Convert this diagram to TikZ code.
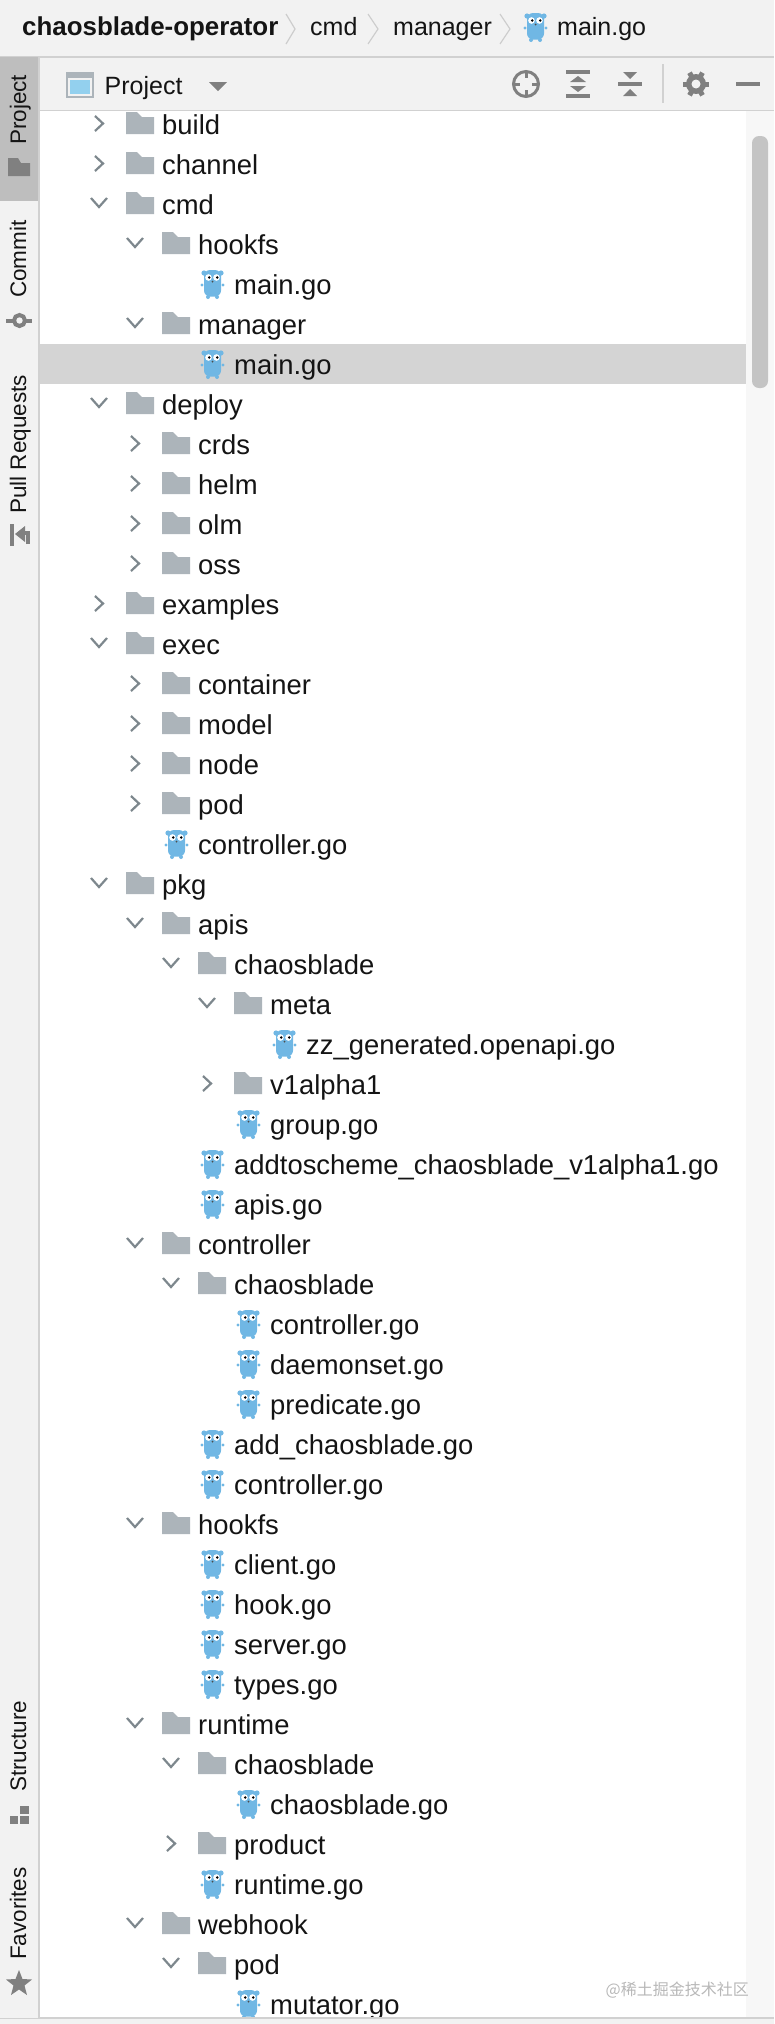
\documentclass[tikz,border=0pt]{standalone}
\usepackage{fontspec}
\setmainfont{Liberation Sans}
\newfontfamily\cjk{Noto Sans CJK SC}
\definecolor{ide_bar}{RGB}{242, 242, 242}
\definecolor{ide_line}{RGB}{209, 209, 209}
\definecolor{ide_tab}{RGB}{190, 190, 190}
\definecolor{ide_sel}{RGB}{212, 212, 212}
\definecolor{ide_icon}{RGB}{128, 128, 128}
\definecolor{ide_folder}{RGB}{172, 180, 186}
\definecolor{ide_arrow}{RGB}{125, 135, 141}
\definecolor{ide_crumb}{RGB}{205, 205, 205}
\definecolor{ide_thumb}{RGB}{196, 196, 196}
\definecolor{ide_track}{RGB}{247, 247, 247}
\definecolor{ide_sky}{RGB}{147, 208, 238}
\definecolor{go_blue}{RGB}{112, 183, 228}
\definecolor{ide_text}{RGB}{20, 20, 20}
\tikzstyle{tn}=[anchor=base west,inner sep=0pt,text=ide_text,
  font=\fontsize{27.4}{30}\selectfont]
\tikzstyle{hn}=[anchor=base west,inner sep=0pt,text=ide_text,
  font=\fontsize{25}{30}\selectfont]
\tikzstyle{sn}=[anchor=base west,inner sep=0pt,rotate=90,text=ide_text,
  font=\fontsize{22.5}{26}\selectfont]
\tikzstyle{chev}=[draw=ide_arrow,line width=2.2pt,fill=none]
\tikzset{
  folder/.pic={
    \fill[ide_folder] (-36,-22) -- (-25,-22) -- (-20,-17) -- (-8,-17)
      -- (-8,0) -- (-36,0) -- cycle;
  },
  fopen/.pic={
    \pic {folder};
    \draw[style=chev] (-71,-16) -- (-63,-7) -- (-55,-16);
  },
  fshut/.pic={
    \pic {folder};
    \draw[style=chev] (-67,-18) -- (-59,-10.5) -- (-67,-3);
  },
  gopher/.pic={
    \fill[go_blue] (-30,-21) circle (2.6);
    \fill[go_blue] (-13,-21) circle (2.6);
    \fill[go_blue] (-32,-9) circle (1.6);
    \fill[go_blue] (-11,-9) circle (1.6);
    \fill[go_blue] (-26,3) circle (2);
    \fill[go_blue] (-17,3) circle (2);
    \fill[go_blue,rounded corners=6pt] (-30,-24) rectangle (-13,2.5);
    \fill[white] (-25.5,-16.5) circle (3.3);
    \fill[white] (-17.5,-16.5) circle (3.3);
    \fill[black] (-24.8,-16.5) circle (1.4);
    \fill[black] (-16.8,-16.5) circle (1.4);
    \fill[black!70] (-21.5,-12.5) circle (1);
  }
}
\begin{document}
\begin{tikzpicture}[x=1pt,y=-1pt]
	\useasboundingbox (0, 0) rectangle (774, 2024);
	\fill[white] (0, 0) rectangle (774, 2024);
	\fill[ide_track] (746, 111) rectangle (774, 2024);
	\fill[ide_sel] (39, 344) rectangle (746, 384);
	\fill[ide_thumb,rounded corners=7pt] (752, 136) rectangle (768, 388);

	\node[style=tn] (0) at (162, 134) {build}; \pic at (0.base west) {fshut};
	\node[style=tn] (1) at (162, 174) {channel}; \pic at (1.base west) {fshut};
	\node[style=tn] (2) at (162, 214) {cmd}; \pic at (2.base west) {fopen};
	\node[style=tn] (3) at (198, 254) {hookfs}; \pic at (3.base west) {fopen};
	\node[style=tn] (4) at (234, 294) {main.go}; \pic at (4.base west) {gopher};
	\node[style=tn] (5) at (198, 334) {manager}; \pic at (5.base west) {fopen};
	\node[style=tn] (6) at (234, 374) {main.go}; \pic at (6.base west) {gopher};
	\node[style=tn] (7) at (162, 414) {deploy}; \pic at (7.base west) {fopen};
	\node[style=tn] (8) at (198, 454) {crds}; \pic at (8.base west) {fshut};
	\node[style=tn] (9) at (198, 494) {helm}; \pic at (9.base west) {fshut};
	\node[style=tn] (10) at (198, 534) {olm}; \pic at (10.base west) {fshut};
	\node[style=tn] (11) at (198, 574) {oss}; \pic at (11.base west) {fshut};
	\node[style=tn] (12) at (162, 614) {examples}; \pic at (12.base west) {fshut};
	\node[style=tn] (13) at (162, 654) {exec}; \pic at (13.base west) {fopen};
	\node[style=tn] (14) at (198, 694) {container}; \pic at (14.base west) {fshut};
	\node[style=tn] (15) at (198, 734) {model}; \pic at (15.base west) {fshut};
	\node[style=tn] (16) at (198, 774) {node}; \pic at (16.base west) {fshut};
	\node[style=tn] (17) at (198, 814) {pod}; \pic at (17.base west) {fshut};
	\node[style=tn] (18) at (198, 854) {controller.go}; \pic at (18.base west) {gopher};
	\node[style=tn] (19) at (162, 894) {pkg}; \pic at (19.base west) {fopen};
	\node[style=tn] (20) at (198, 934) {apis}; \pic at (20.base west) {fopen};
	\node[style=tn] (21) at (234, 974) {chaosblade}; \pic at (21.base west) {fopen};
	\node[style=tn] (22) at (270, 1014) {meta}; \pic at (22.base west) {fopen};
	\node[style=tn] (23) at (306, 1054) {zz\_generated.openapi.go}; \pic at (23.base west) {gopher};
	\node[style=tn] (24) at (270, 1094) {v1alpha1}; \pic at (24.base west) {fshut};
	\node[style=tn] (25) at (270, 1134) {group.go}; \pic at (25.base west) {gopher};
	\node[style=tn] (26) at (234, 1174) {addtoscheme\_chaosblade\_v1alpha1.go}; \pic at (26.base west) {gopher};
	\node[style=tn] (27) at (234, 1214) {apis.go}; \pic at (27.base west) {gopher};
	\node[style=tn] (28) at (198, 1254) {controller}; \pic at (28.base west) {fopen};
	\node[style=tn] (29) at (234, 1294) {chaosblade}; \pic at (29.base west) {fopen};
	\node[style=tn] (30) at (270, 1334) {controller.go}; \pic at (30.base west) {gopher};
	\node[style=tn] (31) at (270, 1374) {daemonset.go}; \pic at (31.base west) {gopher};
	\node[style=tn] (32) at (270, 1414) {predicate.go}; \pic at (32.base west) {gopher};
	\node[style=tn] (33) at (234, 1454) {add\_chaosblade.go}; \pic at (33.base west) {gopher};
	\node[style=tn] (34) at (234, 1494) {controller.go}; \pic at (34.base west) {gopher};
	\node[style=tn] (35) at (198, 1534) {hookfs}; \pic at (35.base west) {fopen};
	\node[style=tn] (36) at (234, 1574) {client.go}; \pic at (36.base west) {gopher};
	\node[style=tn] (37) at (234, 1614) {hook.go}; \pic at (37.base west) {gopher};
	\node[style=tn] (38) at (234, 1654) {server.go}; \pic at (38.base west) {gopher};
	\node[style=tn] (39) at (234, 1694) {types.go}; \pic at (39.base west) {gopher};
	\node[style=tn] (40) at (198, 1734) {runtime}; \pic at (40.base west) {fopen};
	\node[style=tn] (41) at (234, 1774) {chaosblade}; \pic at (41.base west) {fopen};
	\node[style=tn] (42) at (270, 1814) {chaosblade.go}; \pic at (42.base west) {gopher};
	\node[style=tn] (43) at (234, 1854) {product}; \pic at (43.base west) {fshut};
	\node[style=tn] (44) at (234, 1894) {runtime.go}; \pic at (44.base west) {gopher};
	\node[style=tn] (45) at (198, 1934) {webhook}; \pic at (45.base west) {fopen};
	\node[style=tn] (46) at (234, 1974) {pod}; \pic at (46.base west) {fopen};
	\node[style=tn] (47) at (270, 2014) {mutator.go}; \pic at (47.base west) {gopher};

	\node[anchor=base east,inner sep=0pt,text=black!28,font=\cjk\fontsize{16}{18}\selectfont] (wm) at (749, 1995) {@稀土掘金技术社区};

	\fill[ide_bar] (0, 2018) rectangle (774, 2024);
	\draw[ide_line,line width=1.5pt] (0, 2018) -- (774, 2018);

	\fill[ide_bar] (0, 0) rectangle (774, 57);
	\fill[ide_bar] (39, 57) rectangle (774, 110);
	\draw[ide_line,line width=1.5pt] (0, 57) -- (774, 57);
	\draw[ide_line,line width=1.5pt] (39, 110.5) -- (774, 110.5);
	\fill[ide_bar] (0, 57) rectangle (38, 2018);
	\fill[ide_tab] (0, 57) rectangle (38, 201);
	\draw[ide_line,line width=2pt] (39, 57) -- (39, 2018);

	\node[style=hn,font=\bfseries\fontsize{25.9}{30}\selectfont] (h0) at (22, 35) {chaosblade-operator};
	\draw[ide_crumb,line width=1.2pt] (286, 14) -- (295, 29) -- (286, 44);
	\node[style=hn] (h1) at (310, 35) {cmd};
	\draw[ide_crumb,line width=1.2pt] (368, 14) -- (378, 29) -- (368, 44);
	\node[style=hn] (h2) at (393, 35) {manager};
	\draw[ide_crumb,line width=1.2pt] (500, 14) -- (510, 29) -- (500, 44);
	\node[style=hn] (h3) at (557, 35) {main.go};
	\pic[yshift=-2pt] at (h3.base west) {gopher};

	\fill[ide_folder] (66, 72) rectangle (94, 98);
	\fill[ide_bar] (68, 78) rectangle (92, 96);
	\fill[ide_sky] (70, 80) rectangle (90, 94);
	\node[style=hn] (p0) at (104.5, 94) {Project};
	\fill[ide_icon] (209, 82) -- (227, 82) -- (218, 91) -- cycle;

	\draw[ide_icon,line width=3pt] (526, 84) circle (12.5);
	\draw[ide_icon,line width=3pt] (526, 71) -- (526, 78) (526, 90) -- (526, 97) (513, 84) -- (520, 84) (532, 84) -- (539, 84);
	\fill[ide_icon] (566, 70) rectangle (590, 74);
	\fill[ide_icon] (566, 94) rectangle (590, 98);
	\fill[ide_icon] (578, 76) -- (586, 82) -- (570, 82) -- cycle;
	\fill[ide_icon] (578, 92) -- (586, 86) -- (570, 86) -- cycle;
	\fill[ide_icon] (618, 82) rectangle (642, 86);
	\fill[ide_icon] (623, 72) -- (637, 72) -- (630, 79) -- cycle;
	\fill[ide_icon] (623, 96) -- (637, 96) -- (630, 89) -- cycle;
	\draw[ide_line,line width=1.5pt] (663, 64) -- (663, 103);
	\foreach \a in {0,60,120} {
		\draw[ide_icon,line width=5pt] (696, 84) ++(\a:13) -- ++(\a+180:26);
	}
	\fill[ide_icon] (696, 84) circle (10);
	\fill[ide_bar] (696, 84) circle (4.5);
	\fill[ide_icon] (736, 82) rectangle (760, 86);

	\node[style=sn] (s0) at (26, 145) {Project};
	\fill[ide_icon] (8, 158) -- (18, 158) -- (21, 163) -- (30, 163) -- (30, 176) -- (8, 176) -- cycle;
	\node[style=sn] (s1) at (26, 298) {Commit};
	\draw[ide_icon,line width=4pt] (19.5, 320.5) circle (5.5);
	\draw[ide_icon,line width=4pt] (6, 320.5) -- (13, 320.5) (26, 320.5) -- (32, 320.5);
	\node[style=sn] (s2) at (26, 514) {Pull Requests};
	\draw[ide_icon,line width=4pt] (12, 524) -- (12, 546);
	\draw[ide_icon,line width=4pt] (28, 544) -- (28, 533) -- (22, 533);
	\fill[ide_icon] (15, 534) -- (25, 526) -- (25, 542) -- cycle;
	\node[style=sn] (s3) at (26, 1792) {Structure};
	\fill[ide_icon] (20, 1806) rectangle (29, 1814);
	\fill[ide_icon] (10, 1816) rectangle (18, 1824);
	\fill[ide_icon] (20, 1816) rectangle (29, 1824);
	\node[style=sn] (s4) at (26, 1960) {Favorites};
	\fill[ide_icon] (19, 1970) -- (22.5, 1979) -- (32, 1979.5) -- (24.5, 1985.5) -- (27, 1995)
		-- (19, 1989.5) -- (11, 1995) -- (13.5, 1985.5) -- (6, 1979.5) -- (15.5, 1979) -- cycle;
\end{tikzpicture}
\end{document}
